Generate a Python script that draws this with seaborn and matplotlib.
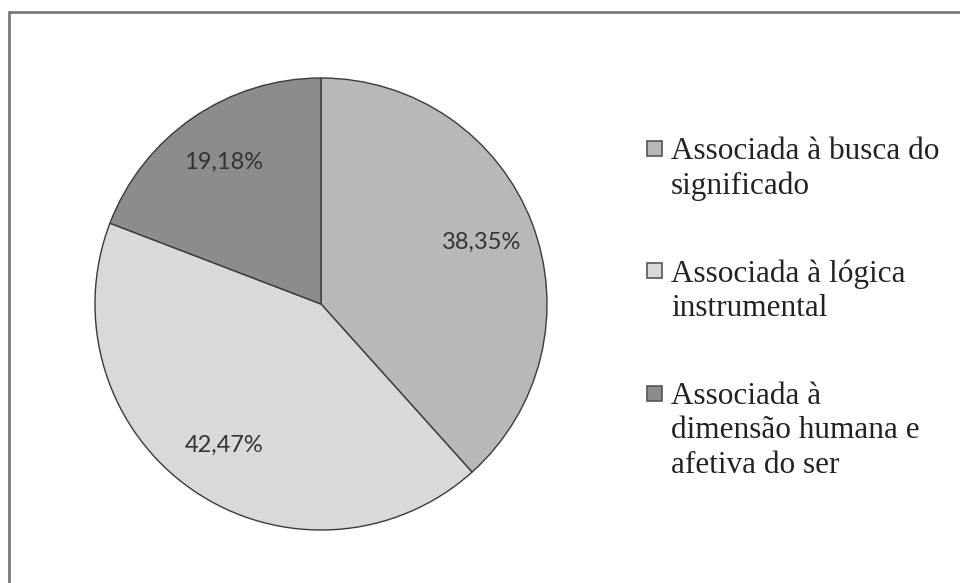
import numpy as np
import seaborn as sns
import matplotlib.pyplot as plt
from matplotlib.patches import Rectangle

categories = ['Associada à busca do\nsignificado',
              'Associada à lógica\ninstrumental',
              'Associada à\ndimensão humana e\nafetiva do ser']
values = [38.35, 42.47, 19.18]
colors = ['#b8b8b8', '#d9d9d9', '#8c8c8c']

sns.set_theme(style='white')

W, H = 960, 583
fig = plt.figure(figsize=(9.6, 5.83), dpi=100)
fig.patch.set_facecolor('white')

# outer frame (only top and left edges fall inside the picture)
fig.add_artist(Rectangle((9 / W, -0.1), 1.2, 1 - 12 / H + 0.1, transform=fig.transFigure,
                         fill=False, edgecolor='#7a7a7a', lw=2))

# pie: center (321, 304), radius 226 px
cx, cy, r = 321, 304, 226
ax = fig.add_axes([(cx - r) / W, (H - cy - r) / H, 2 * r / W, 2 * r / H])
wedges, texts, autotexts = ax.pie(
    values, colors=colors, startangle=90, counterclock=False,
    autopct=lambda p: f'{p:.2f}%'.replace('.', ','), pctdistance=0.76,
    wedgeprops=dict(edgecolor='#3a3a3a', linewidth=1.0),
    textprops=dict(family='Lato', fontsize=17, color='#333333'))
ax.set_xlim(-1, 1)
ax.set_ylim(-1, 1)
ax.set_aspect('auto')
ax.axis('off')

# legend drawn by hand so the marker sits at the first line
tops = [136, 258, 381]
for lab, col, t in zip(categories, colors, tops):
    fig.add_artist(Rectangle((647 / W, 1 - (t + 20) / H), 15 / W, 15 / H,
                             transform=fig.transFigure, facecolor=col,
                             edgecolor='#555555', lw=1.2))
    fig.text(671 / W, 1 - (t + 1) / H, lab, ha='left', va='top',
             family='Liberation Serif', fontsize=22.5, color='#222222',
             linespacing=1.25)

plt.savefig('out.png', dpi=100)
